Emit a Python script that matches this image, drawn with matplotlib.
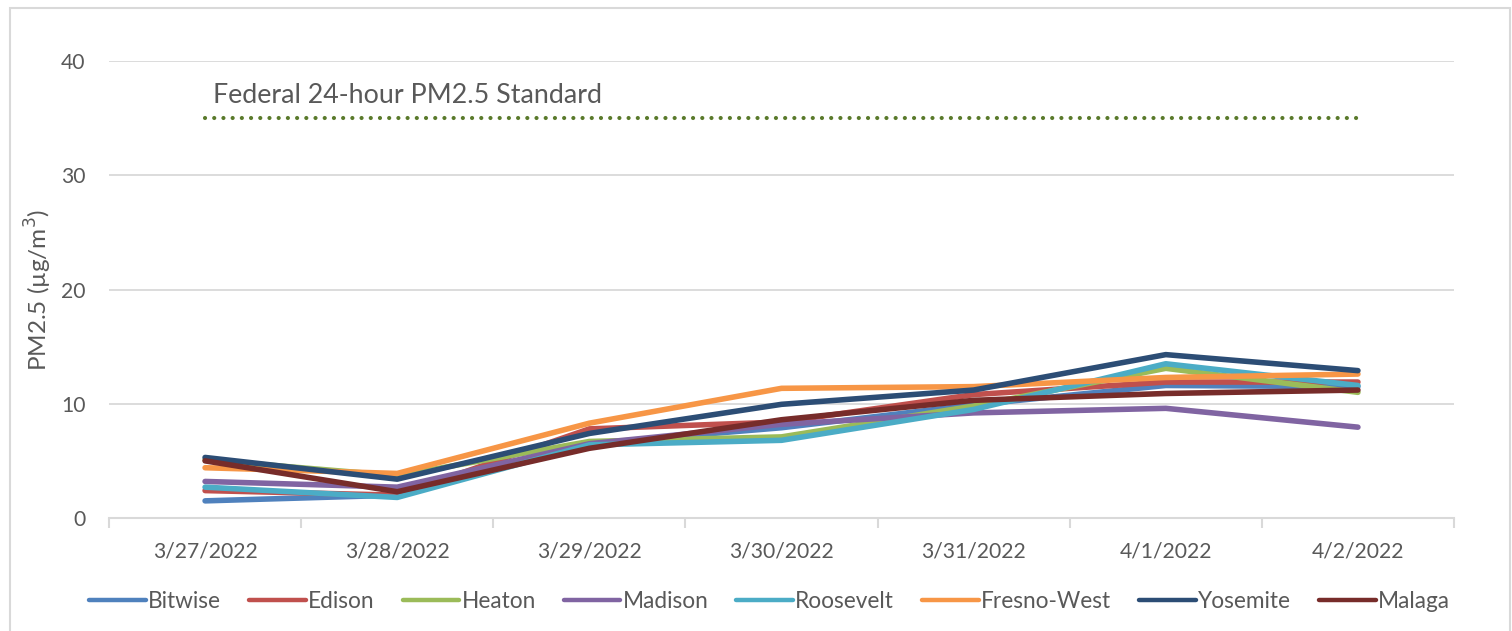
import matplotlib
matplotlib.use("Agg")
import matplotlib.pyplot as plt
from matplotlib.patches import Rectangle

plt.rcParams['font.family'] = ['Lato', 'DejaVu Sans']

dates = ["3/27/2022", "3/28/2022", "3/29/2022", "3/30/2022", "3/31/2022", "4/1/2022", "4/2/2022"]

# PM2.5 readings (ug/m3)
bitwise = [1.5, 2.0, 6.5, 7.9, 9.9, 11.6, 11.5]
edison = [2.4, 2.0, 7.8, 8.4, 10.8, 11.9, 11.9]
heaton = [5.1, 3.7, 6.7, 7.1, 9.8, 13.1, 11.0]
madison = [3.2, 2.7, 6.5, 8.2, 9.2, 9.6, 7.95]
roosevelt = [2.7, 1.8, 6.4, 6.8, 9.5, 13.5, 11.6]
fresno_west = [4.4, 3.9, 8.3, 11.35, 11.5, 12.3, 12.6]
yosemite = [5.3, 3.4, 7.4, 9.95, 11.2, 14.3, 12.9]
malaga = [5.0, 2.3, 6.1, 8.6, 10.3, 10.9, 11.2]
standard = [35] * len(dates)

series = [
    ("Bitwise", bitwise, "#4F81BD"),
    ("Edison", edison, "#C0504D"),
    ("Heaton", heaton, "#9BBB59"),
    ("Madison", madison, "#8064A2"),
    ("Roosevelt", roosevelt, "#4BACC6"),
    ("Fresno-West", fresno_west, "#F79646"),
    ("Yosemite", yosemite, "#2C4D75"),
    ("Malaga", malaga, "#772C2A"),
]

fig = plt.figure(figsize=(15.12, 6.31), dpi=100)
ax = fig.add_axes([109 / 1512, 1 - 518 / 631, (1454 - 109) / 1512, (518 - 61) / 631])

x = list(range(len(dates)))
for name, vals, col in series:
    ax.plot(x, vals, color=col, lw=4.0, label=name, solid_capstyle="round", solid_joinstyle="round")

ax.plot(x, standard, color="#5A7A2B", lw=3.0, linestyle=(0, (0.01, 2.2)),
        dash_capstyle="round")
ax.text(0.04, 37.0, "Federal 24-hour PM2.5 Standard", fontsize=19.3, color="#595959",
        ha="left", va="center")

ax.set_xlim(-0.5, len(dates) - 0.5)
ax.set_ylim(0, 40)
ax.set_yticks([0, 10, 20, 30, 40])
ax.set_xticks(x)
ax.set_xticklabels(dates)
ax.set_xticks([i - 0.5 for i in range(len(dates) + 1)], minor=True)
ax.tick_params(axis="x", which="major", length=0, pad=17, labelsize=15.2, labelcolor="#595959")
ax.tick_params(axis="x", which="minor", length=7, width=1.5, color="#D9D9D9")
ax.tick_params(axis="y", length=0, pad=17, labelsize=15.2, labelcolor="#595959")
ax.grid(axis="y", color="#D9D9D9", lw=1.3)
ax.set_axisbelow(True)
for s in ["top", "right", "left"]:
    ax.spines[s].set_visible(False)
ax.spines["bottom"].set_color("#D9D9D9")
ax.spines["bottom"].set_linewidth(1.5)
ax.set_ylabel("PM2.5 (µg/m$^3$)", fontsize=17.5, color="#595959", labelpad=5)

leg = fig.legend(loc="center", bbox_to_anchor=(0.509, 1 - 601 / 631), ncol=8, frameon=False,
                 fontsize=16.3, handlelength=2.5, handletextpad=0.1, columnspacing=1.24)
for t in leg.get_texts():
    t.set_color("#595959")
for h in leg.get_lines():
    h.set_linewidth(3.2)

fig.patches.append(Rectangle((10 / 1512, -0.1), 1 - 12 / 1512, 1.1 - 8 / 631,
                             transform=fig.transFigure, fill=False,
                             edgecolor="#D9D9D9", lw=1.5))

fig.savefig("out.png", dpi=100)
